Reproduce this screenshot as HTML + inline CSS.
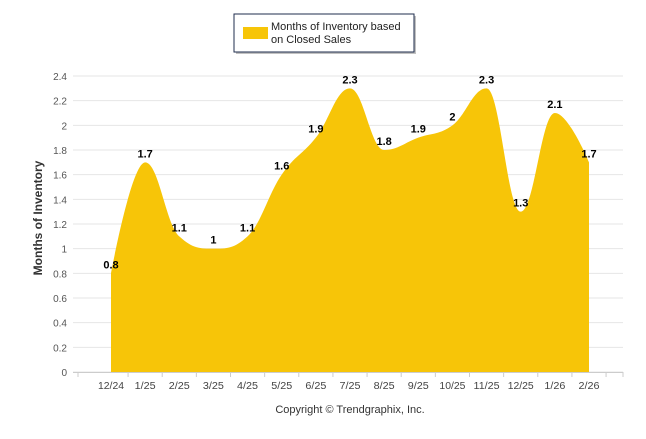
<!DOCTYPE html>
<html><head><meta charset="utf-8"><style>
body{margin:0;background:#fff;width:646px;height:434px;overflow:hidden;font-family:"Liberation Sans",sans-serif}
</style></head><body>
<svg id="c" width="646" height="434" xmlns="http://www.w3.org/2000/svg">
<g>
<rect x="234" y="14" width="180" height="38" fill="#333" opacity="0.3" transform="translate(2,2)"/>
<rect x="234" y="14" width="180" height="38" fill="#fff" stroke="#1f2d4d" stroke-width="1"/>
<rect x="243" y="27" width="25" height="12" fill="#f7c508"/>
<text x="271" y="30" font-size="11" fill="#222">Months of Inventory based</text>
<text x="271" y="43" font-size="11" fill="#222">on Closed Sales</text>
</g>
<g id="grid"></g><g id="area"></g><g id="labels"></g>
<text transform="translate(42,218) rotate(-90)" text-anchor="middle" font-size="12" font-weight="bold" fill="#333">Months of Inventory</text>
<text x="350" y="413" text-anchor="middle" font-size="11" fill="#333">Copyright © Trendgraphix, Inc.</text>
</svg>
<script>
const categories=["12/24","1/25","2/25","3/25","4/25","5/25","6/25","7/25","8/25","9/25","10/25","11/25","12/25","1/26","2/26"];
const values=[0.8,1.7,1.1,1,1.1,1.6,1.9,2.3,1.8,1.9,2,2.3,1.3,2.1,1.7];
const yTicks=[0,0.2,0.4,0.6,0.8,1,1.2,1.4,1.6,1.8,2,2.2,2.4];
const NS="http://www.w3.org/2000/svg";
const x0=111,x1=589,y0=372,yTop=76,yMax=2.4;
const xs=i=>x0+i*(x1-x0)/(categories.length-1);
const ys=v=>y0-v/yMax*(y0-yTop);
function mk(t,a,p){const e=document.createElementNS(NS,t);for(const k in a)e.setAttribute(k,a[k]);p.appendChild(e);return e;}
const grid=document.getElementById('grid');
yTicks.forEach(v=>{
 const l=mk('line',{x1:73,x2:623,y1:ys(v),y2:ys(v),stroke:'#e6e6e6','stroke-width':1},grid);
 
 
 const t=mk('text',{x:67,y:ys(v)+4,'text-anchor':'end','font-size':10,fill:'#555'},grid);
 
 
 t.textContent=String(v);
});
mk('line',{x1:73,x2:623,y1:y0+0.5,y2:y0+0.5,stroke:'#ccc'},grid);
const step=(x1-x0)/(categories.length-1);
for(let i=-1;i<categories.length;i++){
 const xx=i<0?78:xs(i)+step/2; if(xx>624)continue;
 mk('line',{x1:xx,x2:xx,y1:y0,y2:y0+5,stroke:'#ccc'},grid);
}
mk('line',{x1:623,x2:623,y1:y0,y2:y0+5,stroke:'#ccc'},grid);
categories.forEach((c,i)=>{
 const t=mk('text',{x:xs(i),y:y0+17,'text-anchor':'middle','font-size':10,fill:'#444',textLength:c.length>4?26:21,lengthAdjust:'spacingAndGlyphs'},grid);
 
 
 t.textContent=c;
});
const P=values.map((v,i)=>[xs(i),ys(v)]);
let d=`M${P[0][0]},${y0} L${P[0][0]},${P[0][1]}`;
const sm=1.5,den=sm+1;
function ctrl(i){
 const p=P[i],a=P[i-1],b=P[i+1];
 if(!a||!b)return null;
 let lx=(sm*p[0]+a[0])/den,ly=(sm*p[1]+a[1])/den,rx=(sm*p[0]+b[0])/den,ry=(sm*p[1]+b[1])/den;
 const cor=((ry-ly)*(rx-p[0]))/(rx-lx)+p[1]-ry;
 ly+=cor;ry+=cor;
 if(ly>a[1]&&ly>p[1]){ly=Math.max(a[1],p[1]);ry=2*p[1]-ly;}else if(ly<a[1]&&ly<p[1]){ly=Math.min(a[1],p[1]);ry=2*p[1]-ly;}
 if(ry>b[1]&&ry>p[1]){ry=Math.max(b[1],p[1]);ly=2*p[1]-ry;}else if(ry<b[1]&&ry<p[1]){ry=Math.min(b[1],p[1]);ly=2*p[1]-ry;}
 return {l:[lx,ly],r:[rx,ry]};
}
const C=P.map((_,i)=>ctrl(i));
for(let i=1;i<P.length;i++){
 const c1=C[i-1]?C[i-1].r:P[i-1],c2=C[i]?C[i].l:P[i];
 d+=` C${c1[0]},${c1[1]} ${c2[0]},${c2[1]} ${P[i][0]},${P[i][1]}`;
}
d+=` L${P[P.length-1][0]},${y0} Z`;
const ar=mk('path',{d,fill:'#f7c508'},document.getElementById('area'));


const lb=document.getElementById('labels');
values.forEach((v,i)=>{
 const t=mk('text',{x:xs(i),y:ys(v)-5,'text-anchor':'middle','font-size':11,'font-weight':'bold',fill:'#000'},lb);
 
 
 t.textContent=String(v);
});
</script>
</body></html>
